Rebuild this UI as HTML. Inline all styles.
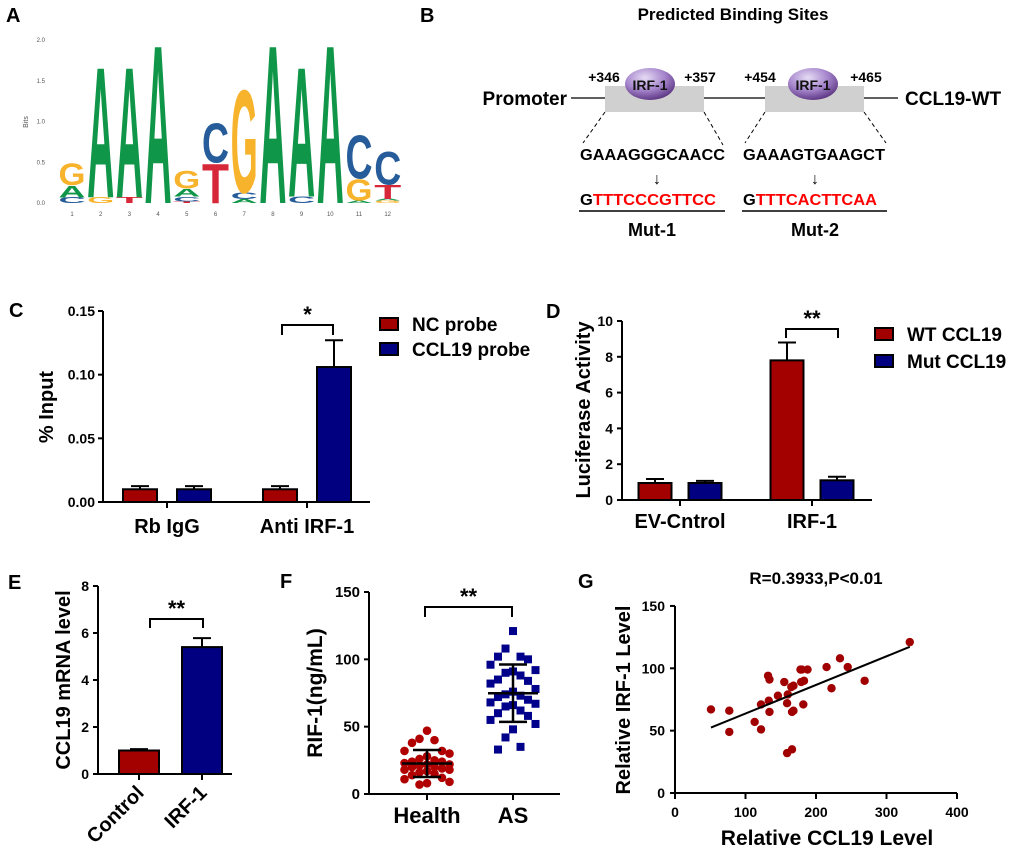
<!DOCTYPE html>
<html><head><meta charset="utf-8"><style>
html,body{margin:0;padding:0;background:#fff;}
svg{display:block;font-family:"Liberation Sans",Arial,sans-serif;font-weight:bold;}
</style></head><body>
<svg id="fig" width="1020" height="855" viewBox="0 0 1020 855" xmlns="http://www.w3.org/2000/svg">
<defs>
<radialGradient id="pg" cx="0.4" cy="0.3" r="0.8">
<stop offset="0" stop-color="#e6dcf5"/><stop offset="0.5" stop-color="#a585cc"/><stop offset="1" stop-color="#4b2270"/>
</radialGradient>
</defs>
<!-- panel letters -->
<text x="6" y="22" font-size="20">A</text>
<text x="420" y="22" font-size="20">B</text>
<text x="9" y="317" font-size="20">C</text>
<text x="546" y="318" font-size="20">D</text>
<text x="8" y="589" font-size="20">E</text>
<text x="280" y="588" font-size="20">F</text>
<text x="578" y="588" font-size="20">G</text>

<!-- Panel B -->
<g>
<text x="733" y="20" font-size="17" text-anchor="middle">Predicted  Binding Sites</text>
<line x1="571" y1="98" x2="898" y2="98" stroke="#000" stroke-width="1.3"/>
<text x="567" y="105" font-size="19" text-anchor="end">Promoter</text>
<text x="905" y="105" font-size="19">CCL19-WT</text>
<rect x="605" y="86" width="99" height="26" fill="#d0d0d0"/>
<rect x="765" y="86" width="99" height="26" fill="#d0d0d0"/>
<ellipse cx="650" cy="84" rx="25" ry="16" fill="url(#pg)"/>
<ellipse cx="813" cy="84" rx="25" ry="16" fill="url(#pg)"/>
<text x="650" y="90" font-size="14" fill="#111" text-anchor="middle">IRF-1</text>
<text x="813" y="90" font-size="14" fill="#111" text-anchor="middle">IRF-1</text>
<text x="604" y="82" font-size="14" text-anchor="middle">+346</text>
<text x="700" y="82" font-size="14" text-anchor="middle">+357</text>
<text x="760" y="82" font-size="14" text-anchor="middle">+454</text>
<text x="866" y="82" font-size="14" text-anchor="middle">+465</text>
<g stroke="#000" stroke-width="1" stroke-dasharray="4,3">
<line x1="605" y1="112" x2="583" y2="143"/><line x1="704" y1="112" x2="723" y2="145"/>
<line x1="765" y1="112" x2="745" y2="143"/><line x1="864" y1="112" x2="886" y2="143"/>
</g>
<text x="580" y="160" font-size="16" textLength="145" lengthAdjust="spacingAndGlyphs" font-weight="normal" style="font-weight:bold">GAAAGGGCAACC</text>
<text x="743" y="160" font-size="16" textLength="142" lengthAdjust="spacingAndGlyphs">GAAAGTGAAGCT</text>
<text x="657" y="184" font-size="16" text-anchor="middle" font-weight="normal">↓</text>
<text x="815" y="184" font-size="16" text-anchor="middle" font-weight="normal">↓</text>
<text x="580" y="205" font-size="16" textLength="136" lengthAdjust="spacingAndGlyphs">G<tspan fill="#ff0000">TTTCCCGTTCC</tspan></text>
<text x="743" y="205" font-size="16" textLength="134" lengthAdjust="spacingAndGlyphs">G<tspan fill="#ff0000">TTTCACTTCAA</tspan></text>
<line x1="579" y1="211" x2="725" y2="211" stroke="#000" stroke-width="1.5"/>
<line x1="742" y1="211" x2="887" y2="211" stroke="#000" stroke-width="1.5"/>
<text x="652" y="236" font-size="18" text-anchor="middle">Mut-1</text>
<text x="815" y="236" font-size="18" text-anchor="middle">Mut-2</text>
</g>
<g id="dyn"></g>
</svg>
<script>
// ===== Panel A: sequence logo =====
const logoLetters = ["CAG","GA","TA","A","TCAG","TC","ACG","A","CA","A","AGC","GATC"];
const logoHeights = [[0.07,0.15,0.28],[0.07,1.65],[0.07,1.65],[2.0],[0.02,0.06,0.1,0.22],[0.5,0.5],[0.05,0.08,1.3],[2.0],[0.08,1.64],[2.0],[0.03,0.27,0.55],[0.03,0.02,0.18,0.42]];
const logoTicks = ["0.0","0.5","1.0","1.5","2.0"];
// ===== Panel C =====
const cGroups = ["Rb IgG","Anti IRF-1"];
const cNC = [0.010, 0.010];
const cNCErr = [0.0025, 0.0025];
const cCCL = [0.010, 0.106];
const cCCLErr = [0.0025, 0.021];
const cTicks = ["0.00","0.05","0.10","0.15"];
// ===== Panel D =====
const dGroups = ["EV-Cntrol","IRF-1"];
const dWT = [0.95, 7.8];
const dWTErr = [0.22, 1.0];
const dMut = [0.95, 1.1];
const dMutErr = [0.12, 0.2];
const dTicks = [0,2,4,6,8,10];
// ===== Panel E =====
const eGroups = ["Control","IRF-1"];
const eVals = [1.0, 5.4];
const eErr = [0.06, 0.38];
const eTicks = [0,2,4,6,8];
// ===== Panel F =====
const fHealth = [47,41,40,38,32,32,30,28,26,25,24,24,23,22,22,21,20,20,19,18,18,17,16,15,14,12,11,9,8,7];
const fAS = [121,108,102,102,100,96,92,91,90,88,85,84,82,78,76,74,73,72,70,68,67,66,65,62,60,58,55,52,48,42,35,33];
const fTicks = [0,50,100,150];
// ===== Panel G =====
const gX = [51,77,77,113,122,122,132,133,134,134,146,155,159,160,159,165,166,168,168,166,178,180,179,183,182,188,215,222,234,245,269,333];
const gY = [67,66,49,57,71,51,94,74,91,65,78,89,72,79,32,85,65,86,66,35,99,99,89,90,71,99,101,84,108,101,90,121];
const gXTicks = [0,100,200,300,400];
const gYTicks = [0,50,100,150];

const NS = "http://www.w3.org/2000/svg";
const root = document.getElementById("dyn");
function mk(tag, attrs, parent) {
  const el = document.createElementNS(NS, tag);
  for (const k in attrs) el.setAttribute(k, attrs[k]);
  (parent || root).appendChild(el);
  return el;
}
function txt(x, y, s, size, anchor, extra) {
  const t = mk("text", Object.assign({x:x, y:y, "font-size":size, "text-anchor":anchor||"start"}, extra||{}));
  t.textContent = s;
  return t;
}
const RED = "#a30000", BLUE = "#000080";

// ---- Panel A ----
const colorMap = {A:"#109648", C:"#255c99", G:"#f7b32b", T:"#d62839"};
const yA = b => 203 - b*81.5;
const xA = i => 72 + i*28.7;
logoTicks.forEach(s => {
  const t = txt(45, yA(parseFloat(s))+2, s, 6, "end", {fill:"#555","font-weight":"normal"});
  
  
});
{
  const t = txt(0, 0, "Bits", 7, "middle", {fill:"#555","font-weight":"normal", transform:"translate(28,122) rotate(-90)"});
  
  
}
logoLetters.forEach((col, i) => {
  let base = 0;
  const lbl = txt(xA(i), 216, String(i+1), 6, "middle", {fill:"#555","font-weight":"normal"});
  
  
  col.split("").forEach((ch, j) => {
    const h = logoHeights[i][j];
    const yb = yA(base), ht = yA(0) - yA(h);
    base += h;
    const w = 27;
    const t = mk("text", {x:0, y:0, "font-size":100, textLength:100, lengthAdjust:"spacingAndGlyphs", fill:colorMap[ch],
      transform:`translate(${xA(i)-w/2},${yb}) scale(${w/100},${ht/72})`});
    t.textContent = ch;
    
    
  });
});

// generic helpers
function yAxis(x, y0, y1, ticks, yfun, labelX, size, name) {
  const l = mk("line", {x1:x, y1:y0, x2:x, y2:y1, stroke:"#000", "stroke-width":2});
  
  
  ticks.forEach(tv => {
    const v = parseFloat(tv);
    const tk = mk("line", {x1:x-5, y1:yfun(v), x2:x, y2:yfun(v), stroke:"#000", "stroke-width":2});
    
    
    const t = txt(labelX, yfun(v)+5, String(tv), size, "end");
    
    
  });
}
function xAxis(x0, x1, y, name) {
  const l = mk("line", {x1:x0, y1:y, x2:x1, y2:y, stroke:"#000", "stroke-width":2});
  
  
}
function xTick(x, y, name) {
  const tk = mk("line", {x1:x, y1:y, x2:x, y2:y+6, stroke:"#000", "stroke-width":2});
  
  
}
function bar(cx, w, v, err, yfun, color, name) {
  const y0 = yfun(0), yt = yfun(v), ye = yfun(v+err);
  const e = mk("line", {x1:cx, y1:yt, x2:cx, y2:ye, stroke:"#000", "stroke-width":2});
  
  
  const c = mk("line", {x1:cx-9, y1:ye, x2:cx+9, y2:ye, stroke:"#000", "stroke-width":2});
  
  
  const r = mk("rect", {x:cx-w/2, y:yt, width:w, height:y0-yt, fill:color, stroke:"#000", "stroke-width":2});
  
  
}
function bracket(x0, x1, y, h, label, name) {
  const p = mk("path", {d:`M${x0},${y+h} V${y} H${x1} V${y+h}`, fill:"none", stroke:"#000", "stroke-width":2});
  
  
  const t = txt((x0+x1)/2, y-3, label, 22, "middle");
  
  
}
function legendEntry(x, y, color, label, name) {
  const r = mk("rect", {x:x, y:y, width:18, height:12, fill:color, stroke:"#000", "stroke-width":2});
  
  
  const t = txt(x+32, y+13, label, 19, "start");
  
  
}

// ---- Panel C ----
const yC = v => 502 - v/0.15*191;
const cCenters = [167, 307];
yAxis(103, 311, 502, cTicks, yC, 95, 14, "c");
xAxis(103, 370, 502, "c");
cGroups.forEach((g, i) => {
  bar(cCenters[i]-27, 34, cNC[i], cNCErr[i], yC, RED, "c-bar-nc-probe");
  bar(cCenters[i]+27, 34, cCCL[i], cCCLErr[i], yC, BLUE, "c-bar-ccl19-probe");
  xTick(cCenters[i], 502, "c");
  const t = txt(cCenters[i], 533, g, 20, "middle");
  
  
});
bracket(282, 333, 325, 10, "*", "c-significance");
{ const t = txt(0,0,"% Input",20,"middle",{transform:"translate(53,407) rotate(-90)"});
  
   }
legendEntry(380, 318, RED, "NC probe", "c-legend-nc-probe");
legendEntry(380, 343, BLUE, "CCL19 probe", "c-legend-ccl19-probe");

// ---- Panel D ----
const yD = v => 500 - v/10*179;
const dCenters = [680, 812];
yAxis(622, 321, 500, dTicks, yD, 613, 14, "d");
xAxis(622, 872, 500, "d");
dGroups.forEach((g, i) => {
  bar(dCenters[i]-25, 33, dWT[i], dWTErr[i], yD, RED, "d-bar-wt-ccl19");
  bar(dCenters[i]+25, 33, dMut[i], dMutErr[i], yD, BLUE, "d-bar-mut-ccl19");
  xTick(dCenters[i], 500, "d");
  const t = txt(dCenters[i], 528, g, 20, "middle");
  
  
});
bracket(786, 838, 329, 9, "**", "d-significance");
{ const t = txt(0,0,"Luciferase Activity",20,"middle",{transform:"translate(590,410) rotate(-90)"});
  
   }
legendEntry(875, 328, RED, "WT CCL19", "d-legend-wt-ccl19");
legendEntry(875, 355, BLUE, "Mut CCL19", "d-legend-mut-ccl19");

// ---- Panel E ----
const yE = v => 774 - v/8*188;
const eCenters = [139, 202];
yAxis(98, 586, 774, eTicks, yE, 89, 14, "e");
xAxis(98, 232, 774, "e");
eGroups.forEach((g, i) => {
  bar(eCenters[i], 40, eVals[i], eErr[i], yE, i===0?RED:BLUE, "e-bar");
  xTick(eCenters[i], 774, "e");
  const t = txt(0, 0, g, 20, "end", {transform:`translate(${eCenters[i]+6},${794}) rotate(-45)`});
  
  
});
bracket(150, 203, 619, 9, "**", "e-significance");
{ const t = txt(0,0,"CCL19 mRNA level",20,"middle",{transform:"translate(70,680) rotate(-90)"});
  
   }

// ---- Panel F ----
const yF = v => 794 - v/150*202;
const fCenters = [427, 513];
yAxis(369, 592, 794, fTicks, yF, 360, 15, "f");
xAxis(369, 560, 794, "f");
const jit = [0,-1,1,-2,2,-3,3];
function meanSd(a) { const m = a.reduce((s,v)=>s+v,0)/a.length; const sd = Math.sqrt(a.reduce((s,v)=>s+(v-m)*(v-m),0)/(a.length-1)); return [m, sd]; }
[fHealth, fAS].forEach((arr, gi) => {
  const cx = fCenters[gi];
  arr.forEach((v, i) => {
    const x = cx + jit[i % 7]*7.5;
    if (gi === 0) {
      const c = mk("circle", {cx:x, cy:yF(v), r:4.3, fill:"#b00000"});
      
      
    } else {
      const s = mk("rect", {x:x-4, y:yF(v)-4, width:8, height:8, fill:"#00008b"});
      
      
    }
  });
  const [m, sd] = meanSd(arr);
  const ml = mk("line", {x1:cx-25, y1:yF(m), x2:cx+25, y2:yF(m), stroke:"#000", "stroke-width":2.5});
  
  
  const vl = mk("line", {x1:cx, y1:yF(m-sd), x2:cx, y2:yF(m+sd), stroke:"#000", "stroke-width":2.5});
  
  
  [m-sd, m+sd].forEach(v => {
    const cl = mk("line", {x1:cx-14, y1:yF(v), x2:cx+14, y2:yF(v), stroke:"#000", "stroke-width":2.5});
    
    
  });
  xTick(cx, 794, "f");
  const t = txt(cx, 823, gi===0?"Health":"AS", 22, "middle");
  
  
});
bracket(425, 512, 607, 10, "**", "f-significance");
{ const t = txt(0,0,"RIF-1(ng/mL)",21,"middle",{transform:"translate(322,693) rotate(-90)"});
  
   }

// ---- Panel G ----
const xG = v => 675 + v*0.705;
const yG = v => 793 - v*1.247;
yAxis(675, 606, 793, gYTicks, yG, 665, 14, "g");
xAxis(675, 957, 793, "g");
gXTicks.forEach(v => {
  xTick(xG(v), 793, "g");
  const t = txt(xG(v), 817, String(v), 14, "middle");
  
  
});
gX.forEach((xv, i) => {
  const c = mk("circle", {cx:xG(xv), cy:yG(gY[i]), r:4.2, fill:"#a00000"});
  
  
});
{
  const n = gX.length, mx = gX.reduce((a,b)=>a+b,0)/n, my = gY.reduce((a,b)=>a+b,0)/n;
  let sxy = 0, sxx = 0;
  gX.forEach((x,i)=>{ sxy += (x-mx)*(gY[i]-my); sxx += (x-mx)*(x-mx); });
  const b = sxy/sxx, a = my - b*mx;
  const xmin = Math.min(...gX), xmax = Math.max(...gX);
  const rl = mk("line", {x1:xG(xmin), y1:yG(a+b*xmin), x2:xG(xmax), y2:yG(a+b*xmax), stroke:"#000", "stroke-width":2});
  
  
}
{ const t = txt(816, 584, "R=0.3933,P<0.01", 17, "middle");
  
   }
{ const t = txt(0,0,"Relative IRF-1 Level",20,"middle",{transform:"translate(630,700) rotate(-90)"});
  
   }
{ const t = txt(827, 845, "Relative CCL19 Level", 21, "middle");
  
   }
</script>
</body></html>
